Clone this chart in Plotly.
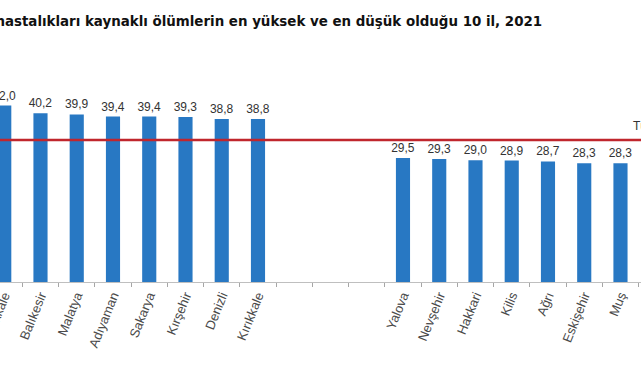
import plotly.graph_objects as go

categories = ["Çanakkale", "Balıkesir", "Malatya", "Adıyaman", "Sakarya", "Kırşehir", "Denizli", "Kırıkkale",
              " ", "  ", "   ",
              "Yalova", "Nevşehir", "Hakkari", "Kilis", "Ağrı", "Eskişehir", "Muş"]
values = [42.0, 40.2, 39.9, 39.4, 39.4, 39.3, 38.8, 38.8,
          None, None, None,
          29.5, 29.3, 29.0, 28.9, 28.7, 28.3, 28.3]
value_labels = [("%.1f" % v).replace(".", ",") if v is not None else "" for v in values]
turkiye_avg = 33.8
title_text = "Dolaşım sistemi hastalıkları kaynaklı ölümlerin en yüksek ve en düşük olduğu 10 il, 2021"

W, H = 641, 380
fig = go.Figure()
fig.add_trace(go.Bar(
    x=categories, y=values, text=value_labels, textposition="outside",
    textfont=dict(family="Liberation Sans, Arial", size=12, color="#333333"),
    marker=dict(color="#2878c3", line=dict(width=0)),
    width=0.39, cliponaxis=True, constraintext="none",
))
fig.add_shape(type="line", xref="paper", x0=0, x1=1, yref="y", y0=turkiye_avg, y1=turkiye_avg,
              line=dict(color="#c0262d", width=2.5))
fig.add_annotation(text="Türkiye: " + ("%.1f" % turkiye_avg).replace(".", ","),
                   xref="paper", x=631 / W, xanchor="left", yref="y", y=turkiye_avg + 3.4,
                   showarrow=False, font=dict(family="Liberation Sans, Arial", size=12, color="#333333"))
fig.add_annotation(text="<b>" + title_text + "</b>", xref="paper", x=544 / W, xanchor="right",
                   yref="paper", y=1 - 21 / 282, yanchor="middle", showarrow=False,
                   font=dict(family="Liberation Sans Narrow, DejaVu Sans Condensed, Arial Narrow", size=14.9, color="#111111"))
fig.update_layout(
    width=W, height=H, margin=dict(l=0, r=0, t=0, b=98, autoexpand=False),
    paper_bgcolor="white", plot_bgcolor="white", showlegend=False,
    xaxis=dict(type="category", range=[-0.117, 17.566], tickson="boundaries", automargin=False,
               ticks="outside", ticklen=4, tickcolor="#a6a6a6",
               showline=True, linecolor="#bfbfbf", linewidth=1, showgrid=False,
               tickangle=-68, tickfont=dict(family="Liberation Sans, Arial", size=13, color="#4a4a4a")),
    yaxis=dict(range=[0, 282 / 4.2], visible=False, showgrid=False, automargin=False),
)
fig.write_html("out.html")
